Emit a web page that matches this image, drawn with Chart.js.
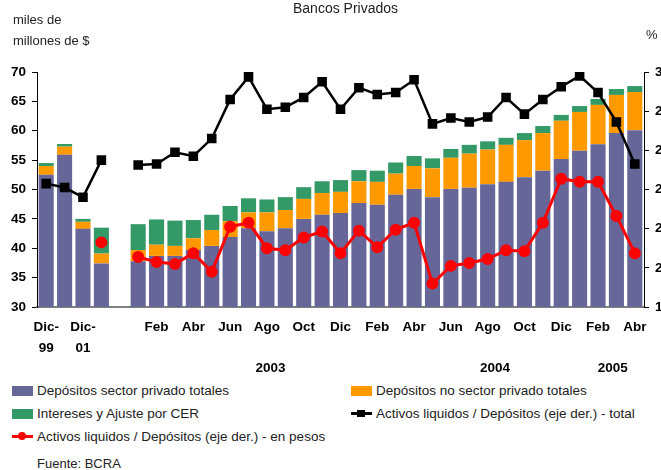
<!DOCTYPE html>
<html>
<head>
<meta charset="utf-8">
<script src="https://cdn.jsdelivr.net/npm/chart.js@4/dist/chart.umd.min.js"></script>
<style>
  body { margin: 0; width: 661px; height: 470px; overflow: hidden; position: relative; background: #fff;
         font-family: 'Liberation Sans', Arial, sans-serif; color: #222; }
  #wrap { position: absolute; left: 0; top: 0; width: 680px; height: 380px; }
  .txt { position: absolute; white-space: nowrap; font-size: 13px; line-height: 16px; }
  .leg { position: absolute; white-space: nowrap; font-size: 13.5px; line-height: 16px; }
  .sw { position: absolute; width: 21px; height: 10px; }
  .ln { position: absolute; width: 21px; height: 3px; }
  .mk { position: absolute; }
</style>
</head>
<body>
<div id="wrap"><canvas id="myChart" width="680" height="380"></canvas></div>

<div class="txt" style="left:293px; top:0px; font-size:14px;">Bancos Privados</div>
<div class="txt" style="left:13px; top:12px;">miles de</div>
<div class="txt" style="left:13px; top:33px;">millones de $</div>
<div class="txt" style="left:646px; top:27px;">%</div>

<div class="sw" style="left:12px; top:386px; background:#666699"></div>
<div class="leg" style="left:37px; top:383px;">Depósitos sector privado totales</div>
<div class="sw" style="left:351px; top:386px; background:#ff9900"></div>
<div class="leg" style="left:376px; top:383px;">Depósitos no sector privado totales</div>

<div class="sw" style="left:12px; top:409px; background:#339966"></div>
<div class="leg" style="left:37px; top:406px;">Intereses y Ajuste por CER</div>
<div class="ln" style="left:351px; top:412px; background:#000"></div>
<div class="mk" style="left:357px; top:410px; width:8px; height:7px; background:#000"></div>
<div class="leg" style="left:376px; top:406px;">Activos liquidos / Depósitos (eje der.) - total</div>

<div class="ln" style="left:12px; top:435px; background:#ff0000"></div>
<div class="mk" style="left:18px; top:432px; width:8px; height:8px; border-radius:4px; background:#ff0000"></div>
<div class="leg" style="left:37px; top:429px;">Activos liquidos / Depósitos (eje der.) - en pesos</div>

<div class="txt" style="left:37px; top:456px;">Fuente: BCRA</div>

<script>
// meses: Dic-99, Dic-00, Dic-01, Dic-02, hueco, Ene-03 ... Abr-05
const categories = ['Dic-99', 'Dic-00', 'Dic-01', 'Dic-02', '',
  'Ene-03', 'Feb-03', 'Mar-03', 'Abr-03', 'May-03', 'Jun-03', 'Jul-03', 'Ago-03', 'Sep-03', 'Oct-03', 'Nov-03', 'Dic-03',
  'Ene-04', 'Feb-04', 'Mar-04', 'Abr-04', 'May-04', 'Jun-04', 'Jul-04', 'Ago-04', 'Sep-04', 'Oct-04', 'Nov-04', 'Dic-04',
  'Ene-05', 'Feb-05', 'Mar-05', 'Abr-05'];

const tickLabels = [['Dic-', '99'], '', ['Dic-', '01'], '', '',
  '', 'Feb', '', 'Abr', '', 'Jun', '', 'Ago', '', 'Oct', '', 'Dic',
  '', 'Feb', '', 'Abr', '', 'Jun', '', 'Ago', '', 'Oct', '', 'Dic',
  '', 'Feb', '', 'Abr'];

const yearLabels = ['2003', '2004', '2005'];
const yearPos = [12.2, 24.4, 30.8];

const privado = [52.5, 55.9, 43.3, 37.4, null,
  37.8, 38.7, 38.7, 39.7, 40.4, 41.9, 43.4, 42.9, 43.4, 45.0, 45.7, 46.0,
  47.7, 47.4, 49.1, 50.1, 48.7, 50.1, 50.3, 50.9, 51.3, 52.1, 53.2, 55.2,
  56.6, 57.7, 59.6, 60.1];

const noPrivado = [1.5, 1.4, 1.2, 1.7, null,
  1.9, 1.9, 1.7, 2.0, 2.7, 2.7, 2.7, 3.2, 3.1, 3.4, 3.7, 3.6,
  3.7, 3.9, 3.6, 3.9, 4.9, 5.3, 5.8, 5.9, 6.3, 6.3, 6.4, 6.5,
  6.6, 6.7, 6.5, 6.5];

const interesesCER = [0.5, 0.45, 0.5, 4.4, null,
  4.4, 4.3, 4.3, 3.1, 2.6, 2.6, 2.4, 2.2, 2.2, 2.0, 2.0, 2.0,
  1.9, 1.9, 1.9, 1.7, 1.7, 1.5, 1.5, 1.4, 1.2, 1.2, 1.2, 1.0,
  1.0, 1.0, 1.0, 1.0];

const liquidezTotal = [24.3, 24.1, 23.6, 25.5, null,
  25.25, 25.3, 25.9, 25.7, 26.6, 28.6, 29.75, 28.1, 28.2, 28.7, 29.5, 28.1,
  29.2, 28.85, 28.95, 29.6, 27.35, 27.65, 27.45, 27.7, 28.7, 27.85, 28.6, 29.25,
  29.8, 28.95, 27.45, 25.3];

const liquidezPesos = [null, null, null, 21.3, null,
  20.55, 20.3, 20.2, 20.75, 19.8, 22.1, 22.3, 21.0, 20.9, 21.55, 21.85, 20.75,
  21.9, 21.05, 21.95, 22.3, 19.2, 20.1, 20.25, 20.45, 20.9, 20.85, 22.3, 24.55,
  24.4, 24.4, 22.65, 20.75];

const FONT = "'Liberation Sans', Arial, sans-serif";

// años debajo de los meses
const yearPlugin = {
  id: 'years',
  afterDraw(chart) {
    const c = chart.ctx, x = chart.scales.x;
    c.save();
    c.font = 'bold 13.5px ' + FONT;
    c.fillStyle = '#000';
    c.textAlign = 'center';
    c.textBaseline = 'middle';
    yearLabels.forEach((y, i) => c.fillText(y, x.getPixelForValue(yearPos[i]), 368));
    c.restore();
  }
};

var ctx = document.getElementById('myChart');
var myChart = new Chart(ctx, {
  type: 'bar',
  data: {
    labels: categories,
    datasets: [
      { label: 'Depósitos sector privado totales', data: privado, backgroundColor: '#666699', stack: 's', order: 2 },
      { label: 'Depósitos no sector privado totales', data: noPrivado, backgroundColor: '#ff9900', stack: 's', order: 2 },
      { label: 'Intereses y Ajuste por CER', data: interesesCER, backgroundColor: '#339966', stack: 's', order: 2 },
      { type: 'line', label: 'Activos liquidos / Depósitos (eje der.) - total', data: liquidezTotal, yAxisID: 'y1',
        borderColor: '#000', backgroundColor: '#000', borderWidth: 2.5, pointStyle: 'rect', pointRadius: 5,
        tension: 0, spanGaps: false, order: 1 },
      { type: 'line', label: 'Activos liquidos / Depósitos (eje der.) - en pesos', data: liquidezPesos, yAxisID: 'y1',
        borderColor: '#ff0000', backgroundColor: '#ff0000', borderWidth: 3, pointStyle: 'circle', pointRadius: 4.5,
        tension: 0, spanGaps: false, order: 0 }
    ]
  },
  options: {
    responsive: false,
    animation: false,
    devicePixelRatio: 1,
    layout: { padding: { top: 72, left: 0, right: 0, bottom: 0 } },
    plugins: { legend: { display: false }, tooltip: { enabled: false } },
    datasets: { bar: { categoryPercentage: 1, barPercentage: 0.82 } },
    scales: {
      x: {
        stacked: true,
        grid: { display: false, drawTicks: false },
        border: { display: true, color: '#808080', width: 2 },
        ticks: {
          autoSkip: false, maxRotation: 0, padding: 9.5, color: '#000',
          font: { family: FONT, size: 13.5, weight: 'bold', lineHeight: '21px' },
          callback: (v, i) => tickLabels[i]
        },
        afterFit: s => { s.height = 73; }
      },
      y: {
        stacked: true, position: 'left', min: 30, max: 70,
        grid: { drawOnChartArea: false, drawTicks: true, tickLength: 5, color: '#000' },
        border: { display: true, color: '#000', width: 1 },
        ticks: { stepSize: 5, padding: 6, color: '#000', font: { family: FONT, size: 13.5, weight: 'bold' } },
        afterFit: s => { s.width = 37; }
      },
      y1: {
        position: 'right', min: 18, max: 30,
        grid: { drawOnChartArea: false, drawTicks: true, tickLength: 5, color: '#000' },
        border: { display: true, color: '#000', width: 1 },
        ticks: { stepSize: 2, padding: 6, color: '#000', font: { family: FONT, size: 13.5, weight: 'bold' } },
        afterFit: s => { s.width = 36; }
      }
    }
  },
  plugins: [yearPlugin]
});
</script>
</body>
</html>
